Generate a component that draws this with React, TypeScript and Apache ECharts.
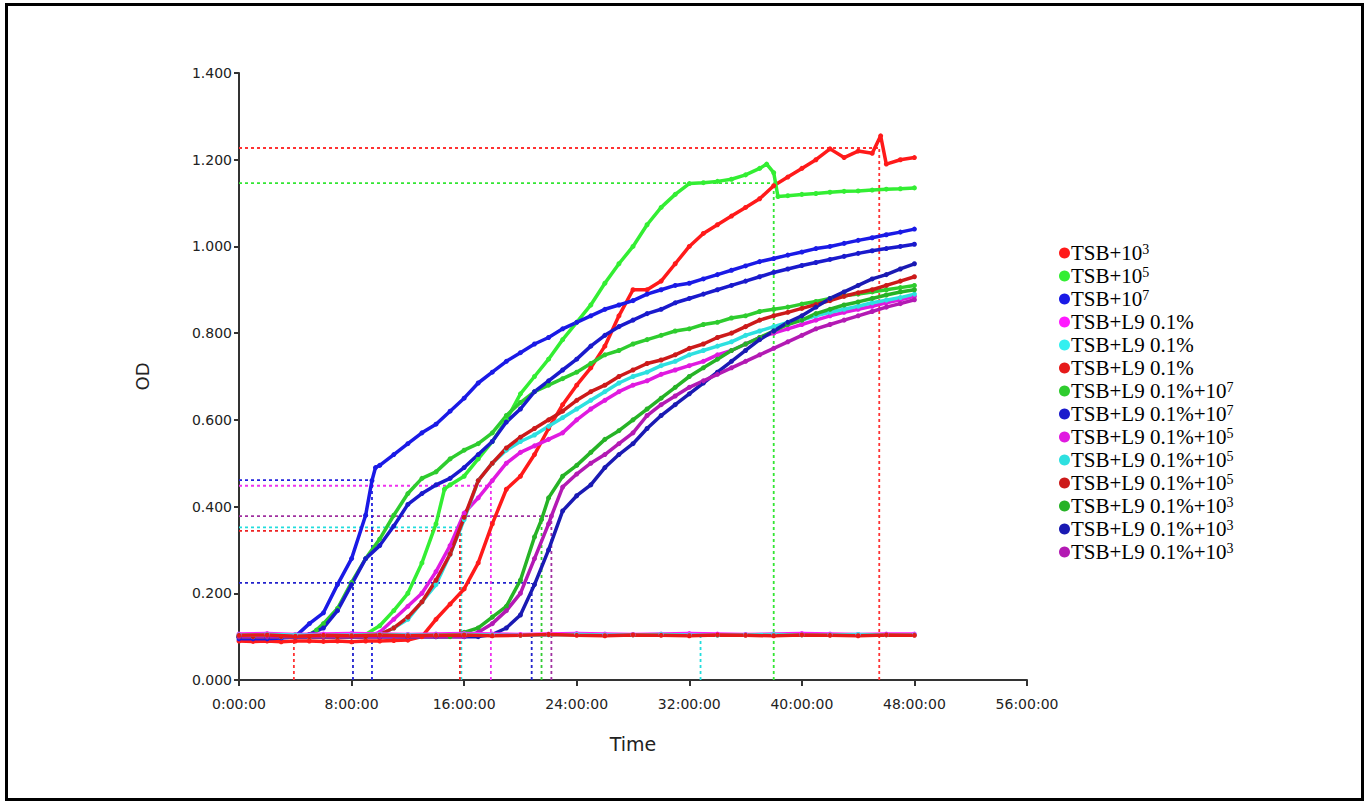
import React, { useEffect, useRef } from "react";
import * as echarts from "echarts";

type P = [number, number];

// Legend labels (display) — superscripts written as {s|n}
const LABELS: string[] = [
  "TSB+10{s|3}",
  "TSB+10{s|5}",
  "TSB+10{s|7}",
  "TSB+L9 0.1%",
  "TSB+L9 0.1%",
  "TSB+L9 0.1%",
  "TSB+L9 0.1%+10{s|7}",
  "TSB+L9 0.1%+10{s|7}",
  "TSB+L9 0.1%+10{s|5}",
  "TSB+L9 0.1%+10{s|5}",
  "TSB+L9 0.1%+10{s|5}",
  "TSB+L9 0.1%+10{s|3}",
  "TSB+L9 0.1%+10{s|3}",
  "TSB+L9 0.1%+10{s|3}",
];

const COLORS: string[] = [
  "#FF1A1A", "#33EE33", "#1A1AE6", "#FF1AFF", "#33F0F0", "#E61A1A", "#2ECC2E",
  "#1A1ACC", "#E01AE0", "#2EE0E0", "#CC1A1A", "#26B326", "#1A1AB3", "#B31AB3",
];

// [hour, OD]
const tsb1e3: P[] = [[0,.09],[1,.089],[2,.09],[3,.088],[4,.09],[5,.09],[6,.089],[7,.09],[8,.088],[9,.09],[10,.09],[11,.091],[12,.092],[13,.1],[14,.14],[15,.175],[16,.21],[17,.27],[18,.36],[19,.44],[20,.47],[21,.52],[22,.58],[23,.635],[24,.68],[25,.72],[26,.77],[27,.84],[28,.9],[29,.9],[30,.92],[31,.96],[32,1.0],[33,1.03],[34,1.05],[35,1.07],[36,1.09],[37,1.11],[38,1.14],[39,1.16],[40,1.18],[41,1.2],[42,1.225],[43,1.205],[44,1.22],[45,1.215],[45.6,1.255],[46,1.19],[47,1.2],[48,1.205]];
const tsb1e5: P[] = [[0,.1],[1,.1],[2,.1],[3,.1],[4,.1],[5,.1],[6,.1],[7,.1],[8,.1],[9,.105],[10,.125],[11,.16],[12,.2],[13,.27],[14,.36],[14.6,.44],[15,.45],[16,.47],[17,.51],[18,.55],[19,.6],[20,.66],[21,.7],[22,.74],[23,.785],[24,.825],[25,.865],[26,.915],[27,.96],[28,1.0],[29,1.05],[30,1.09],[31,1.12],[32,1.145],[33,1.147],[34,1.15],[35,1.155],[36,1.165],[37,1.18],[37.5,1.19],[38,1.17],[38.3,1.115],[39,1.117],[40,1.12],[41,1.122],[42,1.125],[43,1.127],[44,1.128],[45,1.13],[46,1.132],[47,1.133],[48,1.135]];
const tsb1e7: P[] = [[0,.095],[1,.095],[2,.095],[3,.097],[4,.1],[5,.13],[6,.155],[7,.22],[8,.28],[9,.38],[9.45,.46],[9.7,.49],[10,.495],[11,.52],[12,.545],[13,.57],[14,.59],[15,.62],[16,.65],[17,.685],[18,.71],[19,.735],[20,.755],[21,.775],[22,.79],[23,.81],[24,.825],[25,.84],[26,.855],[27,.865],[28,.875],[29,.89],[30,.9],[31,.91],[32,.915],[33,.925],[34,.935],[35,.945],[36,.955],[37,.965],[38,.972],[39,.98],[40,.987],[41,.995],[42,1.0],[43,1.007],[44,1.014],[45,1.02],[46,1.027],[47,1.033],[48,1.04]];
const l9Magenta: P[] = [[0,.106],[2,.107],[4,.105],[6,.106],[8,.107],[10,.106],[12,.105],[14,.106],[16,.107],[18,.106],[20,.105],[22,.106],[24,.107],[26,.106],[28,.105],[30,.106],[32,.107],[34,.106],[36,.105],[38,.106],[40,.107],[42,.106],[44,.105],[46,.106],[48,.106]];
const l9Cyan: P[] = [[0,.104],[2,.105],[4,.104],[6,.103],[8,.104],[10,.105],[12,.104],[14,.104],[16,.105],[18,.104],[20,.103],[22,.104],[24,.105],[26,.104],[28,.104],[30,.105],[32,.104],[34,.103],[36,.104],[38,.105],[40,.104],[42,.104],[44,.105],[46,.104],[48,.104]];
const l9Red: P[] = [[0,.103],[2,.104],[4,.101],[6,.103],[8,.102],[10,.104],[12,.102],[14,.103],[16,.104],[18,.102],[20,.103],[22,.105],[24,.103],[26,.102],[28,.104],[30,.103],[32,.102],[34,.104],[36,.103],[38,.102],[40,.104],[42,.103],[44,.102],[46,.104],[48,.103]];
const l9e7Green: P[] = [[0,.1],[1,.1],[2,.1],[3,.1],[4,.1],[5,.105],[5.5,.115],[6,.13],[7,.165],[8,.225],[9,.28],[10,.325],[11,.38],[12,.43],[13,.465],[14,.48],[15,.51],[16,.53],[17,.545],[18,.57],[19,.61],[20,.64],[21,.665],[22,.68],[23,.695],[24,.71],[25,.73],[26,.75],[27,.76],[28,.775],[29,.785],[30,.795],[31,.805],[32,.81],[33,.82],[34,.825],[35,.835],[36,.84],[37,.85],[38,.855],[39,.86],[40,.867],[41,.873],[42,.88],[43,.886],[44,.89],[45,.895],[46,.9],[47,.905],[48,.91]];
const l9e7Blue: P[] = [[0,.1],[1,.1],[2,.1],[3,.1],[4,.1],[5,.105],[6,.12],[7,.16],[8,.22],[9,.28],[10,.31],[11,.355],[12,.405],[13,.43],[14,.45],[15,.465],[16,.49],[17,.52],[18,.55],[19,.595],[20,.625],[21,.665],[22,.69],[23,.715],[24,.74],[25,.77],[26,.795],[27,.815],[28,.83],[29,.845],[30,.855],[31,.87],[32,.88],[33,.89],[34,.9],[35,.91],[36,.92],[37,.93],[38,.94],[39,.948],[40,.956],[41,.963],[42,.97],[43,.977],[44,.984],[45,.99],[46,.995],[47,1.0],[48,1.005]];
const l9e5Magenta: P[] = [[0,.1],[1,.1],[2,.1],[3,.1],[4,.1],[5,.1],[6,.1],[7,.1],[8,.1],[9,.1],[10,.11],[11,.14],[12,.17],[13,.2],[14,.25],[15,.31],[16,.385],[17,.42],[18,.46],[19,.5],[20,.525],[21,.54],[22,.555],[23,.57],[24,.6],[25,.625],[26,.645],[27,.665],[28,.68],[29,.69],[30,.705],[31,.715],[32,.725],[33,.735],[34,.75],[35,.76],[36,.775],[37,.79],[38,.8],[39,.81],[40,.82],[41,.83],[42,.84],[43,.848],[44,.855],[45,.862],[46,.87],[47,.877],[48,.885]];
const l9e5Cyan: P[] = [[0,.1],[1,.1],[2,.1],[3,.1],[4,.1],[5,.1],[6,.1],[7,.1],[8,.1],[9,.1],[10,.105],[11,.12],[12,.14],[13,.18],[14,.22],[15,.29],[16,.37],[17,.46],[18,.5],[19,.53],[20,.55],[21,.565],[22,.585],[23,.605],[24,.625],[25,.645],[26,.665],[27,.685],[28,.7],[29,.71],[30,.725],[31,.735],[32,.75],[33,.76],[34,.77],[35,.78],[36,.795],[37,.805],[38,.815],[39,.825],[40,.83],[41,.84],[42,.848],[43,.855],[44,.862],[45,.87],[46,.876],[47,.882],[48,.89]];
const l9e5Red: P[] = [[0,.1],[1,.1],[2,.1],[3,.1],[4,.1],[5,.1],[6,.1],[7,.1],[8,.1],[9,.1],[10,.105],[11,.12],[12,.145],[13,.18],[14,.23],[15,.29],[16,.375],[17,.46],[18,.5],[19,.535],[20,.56],[21,.58],[22,.6],[23,.62],[24,.645],[25,.665],[26,.68],[27,.7],[28,.715],[29,.73],[30,.738],[31,.75],[32,.765],[33,.775],[34,.79],[35,.8],[36,.815],[37,.83],[38,.84],[39,.848],[40,.857],[41,.866],[42,.875],[43,.885],[44,.893],[45,.9],[46,.91],[47,.92],[48,.93]];
const l9e3Green: P[] = [[0,.1],[2,.1],[4,.1],[6,.1],[8,.1],[10,.1],[12,.1],[14,.1],[15,.1],[16,.11],[17,.12],[18,.145],[19,.17],[20,.23],[21,.33],[21.5,.37],[22,.42],[23,.47],[24,.495],[25,.525],[26,.555],[27,.575],[28,.6],[29,.625],[30,.65],[31,.675],[32,.7],[33,.72],[34,.74],[35,.76],[36,.775],[37,.79],[38,.805],[39,.82],[40,.83],[41,.845],[42,.855],[43,.865],[44,.872],[45,.88],[46,.888],[47,.895],[48,.9]];
const l9e3Blue: P[] = [[0,.1],[2,.1],[4,.1],[6,.1],[8,.1],[10,.1],[12,.1],[14,.1],[16,.1],[17,.1],[18,.105],[19,.12],[20,.15],[21,.22],[22,.3],[23,.39],[24,.425],[25,.45],[26,.49],[27,.52],[28,.545],[29,.58],[30,.61],[31,.635],[32,.66],[33,.685],[34,.71],[35,.735],[36,.76],[37,.785],[38,.805],[39,.825],[40,.84],[41,.86],[42,.88],[43,.895],[44,.91],[45,.925],[46,.935],[47,.948],[48,.96]];
const l9e3Purple: P[] = [[0,.1],[2,.1],[4,.1],[6,.1],[8,.1],[10,.1],[12,.1],[14,.1],[16,.1],[17,.11],[18,.13],[19,.16],[20,.2],[21,.28],[22,.36],[22.2,.378],[23,.445],[24,.475],[25,.5],[26,.52],[27,.545],[28,.57],[29,.61],[30,.635],[31,.655],[32,.675],[33,.69],[34,.705],[35,.72],[36,.735],[37,.75],[38,.765],[39,.78],[40,.795],[41,.81],[42,.82],[43,.83],[44,.84],[45,.85],[46,.86],[47,.868],[48,.877]];

const SERIES_DATA: P[][] = [
  tsb1e3, tsb1e5, tsb1e7, l9Magenta, l9Cyan, l9Red, l9e7Green, l9e7Blue,
  l9e5Magenta, l9e5Cyan, l9e5Red, l9e3Green, l9e3Blue, l9e3Purple,
];

// Threshold guide lines: horizontal [OD, up to hour, color]
const H_GUIDES: [number, number, string][] = [
  [1.227, 45.5, "#FF3333"],
  [1.146, 38.0, "#33E633"],
  [0.461, 9.45, "#2222DD"],
  [0.448, 17.9, "#EE33EE"],
  [0.378, 22.2, "#A030A0"],
  [0.352, 15.8, "#22DDDD"],
  [0.344, 15.7, "#EE2222"],
  [0.224, 20.8, "#2222CC"],
];
// vertical [hour, up to OD, color]
const V_GUIDES: [number, number, string][] = [
  [45.5, 1.227, "#FF3333"],
  [38.0, 1.146, "#33E633"],
  [9.45, 0.461, "#2222DD"],
  [8.1, 0.224, "#2222CC"],
  [17.9, 0.448, "#EE33EE"],
  [22.2, 0.378, "#A030A0"],
  [15.8, 0.352, "#22DDDD"],
  [15.7, 0.344, "#EE2222"],
  [20.8, 0.224, "#2222CC"],
  [21.5, 0.37, "#33CC33"],
  [3.9, 0.1, "#FF3333"],
  [32.8, 0.1, "#22DDDD"],
];

const Y_TICKS = { min: 0, max: 1.4, interval: 0.2 };
const X_TICKS = { min: 0, max: 56, interval: 8 };

export default function App() {
  const ref = useRef<HTMLDivElement>(null);
  useEffect(() => {
    if (!ref.current) return;
    const chart = echarts.init(ref.current, null, { renderer: "svg" });
    const names = LABELS.map((l, i) => `s${i}`);
    const mainSeries = SERIES_DATA.map((d, i) => ({
      name: names[i],
      type: "line",
      data: d,
      showSymbol: true,
      symbol: "circle",
      symbolSize: 5,
      z: i >= 3 && i <= 5 ? 4 : 3,
      lineStyle: { color: COLORS[i], width: 3.5 },
      itemStyle: { color: COLORS[i] },
      silent: true,
    }));
    const guideSeries: any[] = [];
    H_GUIDES.forEach(([v, h, c]) => {
      guideSeries.push({
        type: "line",
        data: [[0, v], [h, v]],
        showSymbol: false,
        silent: true,
        z: 2,
        lineStyle: { color: c, width: 1.8, type: [3, 3] },
      });
    });
    V_GUIDES.forEach(([h, v, c]) => {
      guideSeries.push({
        type: "line",
        data: [[h, 0], [h, v]],
        showSymbol: false,
        silent: true,
        z: 2,
        lineStyle: { color: c, width: 1.8, type: [3, 3] },
      });
    });
    chart.setOption({
      animation: false,
      backgroundColor: "#ffffff",
      grid: { left: 239, right: 341, top: 73, bottom: 122 },
      xAxis: {
        type: "value",
        min: X_TICKS.min,
        max: X_TICKS.max,
        interval: X_TICKS.interval,
        name: "Time",
        nameLocation: "middle",
        nameGap: 54,
        nameTextStyle: { fontFamily: "DejaVu Sans", fontSize: 19, color: "#222" },
        axisLine: { lineStyle: { color: "#333", width: 2 } },
        axisTick: { show: true, length: 6, lineStyle: { color: "#333", width: 2 } },
        axisLabel: {
          formatter: (v: number) => `${v}:00:00`,
          fontFamily: "DejaVu Sans",
          fontSize: 14,
          color: "#222",
          margin: 17,
        },
        splitLine: { show: false },
      },
      yAxis: {
        type: "value",
        min: Y_TICKS.min,
        max: Y_TICKS.max,
        interval: Y_TICKS.interval,
        name: "OD",
        nameLocation: "middle",
        nameGap: 88,
        nameRotate: 90,
        nameTextStyle: { fontFamily: "DejaVu Sans", fontSize: 18, color: "#222" },
        axisLine: { show: true, lineStyle: { color: "#333", width: 2 } },
        axisTick: { show: true, length: 5, lineStyle: { color: "#333", width: 2 } },
        axisLabel: {
          formatter: (v: number) => v.toFixed(3),
          fontFamily: "DejaVu Sans",
          fontSize: 14,
          color: "#222",
          margin: 7,
        },
        splitLine: { show: false },
      },
      legend: {
        orient: "vertical",
        left: 1054,
        top: 237,
        data: names.map((n, i) => ({ name: n, icon: "circle", itemStyle: { color: COLORS[i] } })),
        itemWidth: 11,
        itemHeight: 11,
        itemGap: 1,
        selectedMode: false,
        formatter: (n: string) => LABELS[Number(n.slice(1))],
        textStyle: {
          fontFamily: "Liberation Serif",
          fontSize: 21,
          color: "#000",
          lineHeight: 22,
          padding: [0, 0, 0, -4],
          rich: {
            s: { fontFamily: "Liberation Serif", fontSize: 14, verticalAlign: "top", lineHeight: 8, color: "#000" },
          },
        },
      },
      graphic: [
        {
          type: "rect",
          shape: { x: 6.5, y: 4.5, width: 1356, height: 795 },
          style: { fill: "none", stroke: "#000", lineWidth: 3 },
          silent: true,
        },
      ],
      series: [...guideSeries, ...mainSeries],
    });
    return () => chart.dispose();
  }, []);
  return (
    <div
      ref={ref}
      style={{ position: "absolute", left: 0, top: 0, width: 1368, height: 802 }}
    />
  );
}
